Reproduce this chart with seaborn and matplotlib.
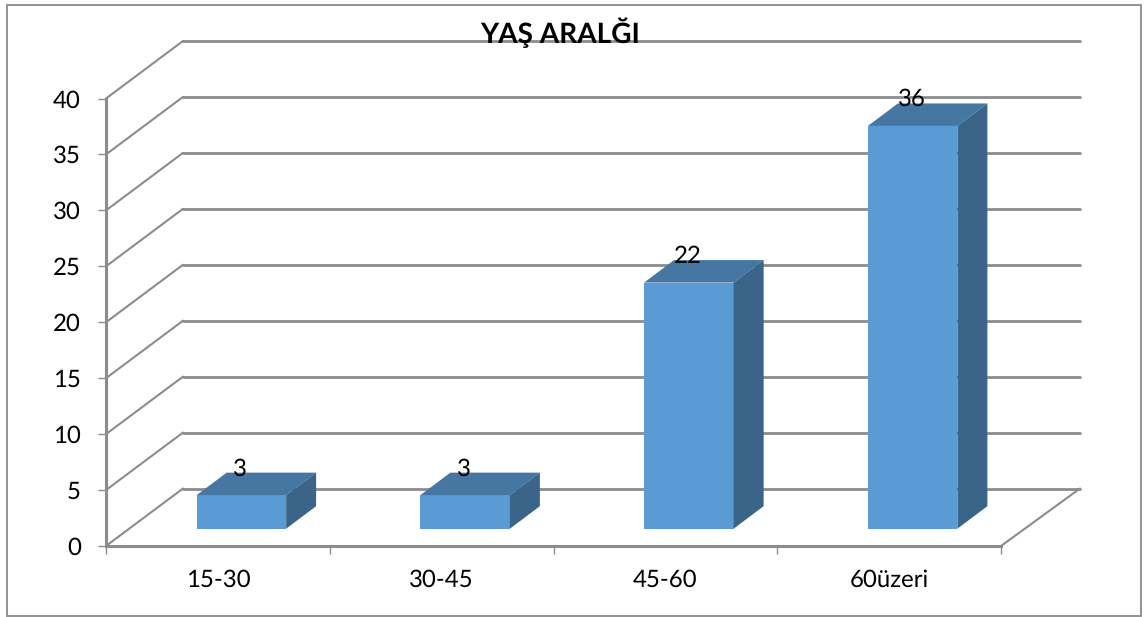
import numpy as np
import pandas as pd
import matplotlib
matplotlib.use("Agg")
import matplotlib.pyplot as plt
from matplotlib.patches import Polygon, Rectangle
from matplotlib.lines import Line2D
from matplotlib.transforms import Affine2D, IdentityTransform
import seaborn as sns

categories = ["15-30", "30-45", "45-60", "60üzeri"]
values = [3, 3, 22, 36]
y_ticks = [0, 5, 10, 15, 20, 25, 30, 35, 40]
title = "YAŞ ARALĞI"

W, H = 1146, 617
FRONT = "#5B9BD5"
TOP = "#4677A3"
SIDE = "#3A6488"
GRID = "#8C8C8C"

sns.set_theme(style="white")
plt.rcParams["font.family"] = ["Lato", "DejaVu Sans"]
plt.rcParams["text.hinting"] = "no_hinting"
plt.rcParams["text.hinting_factor"] = 1

fig = plt.figure(figsize=(W / 100, H / 100), dpi=100, facecolor="white")
left, right, top, bottom = 106, 1001, 98.5, 546
ax = fig.add_axes([left / W, 1 - bottom / H, (right - left) / W, (bottom - top) / H])
ax.patch.set_alpha(0)

df = pd.DataFrame({"group": categories, "count": values})
sns.barplot(data=df, x="group", y="count", color=FRONT, saturation=1, width=0.40, ax=ax, zorder=3)
ax.set_xlim(-0.5, len(categories) - 0.5)
ax.set_ylim(0, 40)
ax.set_xlabel("")
ax.set_ylabel("")

# outer chart border
fig.add_artist(Rectangle((6.5 / W, 1 - 616 / H), (1140.5 - 6.5) / W, (616 - 4.5) / H,
                         transform=fig.transFigure, fill=False, ec="#8A8A8A", lw=1.3))

# pseudo-3D wall and floor, derived from the axes scale
px = IdentityTransform()
wall_dx, wall_dy = 77, 57.5
end_x = ax.transData.transform((len(categories) - 0.5, 0))[0]
for t in y_ticks:
    x0, y0 = ax.transData.transform((-0.5, t))
    ax.add_line(Line2D([x0, x0 + wall_dx], [y0, y0 + wall_dy], transform=px, color=GRID,
                       lw=1.5, clip_on=False, zorder=1))
    ax.add_line(Line2D([x0 + wall_dx, end_x + 79], [y0 + wall_dy, y0 + wall_dy], transform=px,
                       color=GRID, lw=2.0, clip_on=False, zorder=1, solid_capstyle="round"))
x0, y0 = ax.transData.transform((len(categories) - 0.5, 0))
ax.add_line(Line2D([x0, x0 + 79], [y0, y0 + wall_dy], transform=px, color=GRID, lw=1.5,
                   clip_on=False, zorder=1))

# bars: shift the front faces into the chart and add top and side faces
bar_dx, bar_dy = 23.5, 17.3
depth_x, depth_y = 30, 22.5
shift = ax.transData + Affine2D().translate(bar_dx, bar_dy)
for bar, val in zip(ax.patches, values):
    bar.set_transform(shift)
    bar.set_clip_on(False)
    bar.set_edgecolor("none")
    xa, xb = bar.get_x(), bar.get_x() + bar.get_width()
    (l, b), (r, t) = shift.transform([(xa, 0), (xb, val)])
    ax.add_patch(Polygon([(l, t), (r, t), (r + depth_x, t + depth_y), (l + depth_x, t + depth_y)],
                         closed=True, transform=px, fc=TOP, ec="none", clip_on=False, zorder=3))
    ax.add_patch(Polygon([(r, b), (r + depth_x, b + depth_y), (r + depth_x, t + depth_y), (r, t)],
                         closed=True, transform=px, fc=SIDE, ec="none", clip_on=False, zorder=3))
    ax.text((l + r) / 2 - 1, t + 26.5, str(val), transform=px, ha="center", va="center",
            fontsize=17, color="black", zorder=5, clip_on=False)

# axes
sns.despine(ax=ax, top=True, right=True)
for side in ("left", "bottom"):
    ax.spines[side].set_color(GRID)
    ax.spines[side].set_linewidth(2.2)
    ax.spines[side].set_zorder(2)
n = len(categories)
ax.set_xticks(np.arange(n + 1) - 0.5, labels=[""] * (n + 1))
ax.set_xticks(np.arange(n), labels=categories, minor=True)
ax.set_yticks(y_ticks, labels=[str(t) for t in y_ticks])
ax.tick_params(axis="x", which="major", bottom=True, length=5.5, width=1, color=GRID)
ax.tick_params(axis="x", which="minor", bottom=False, length=0, pad=17, labelsize=17, labelcolor="black")
ax.tick_params(axis="y", left=True, length=6, width=1, color=GRID, pad=12, labelsize=17, labelcolor="black")

fig.text(560 / W, 1 - 33 / H, title, ha="center", va="center", fontsize=20, fontweight="bold",
         color="black", zorder=6)

fig.savefig("out.png", dpi=100)
